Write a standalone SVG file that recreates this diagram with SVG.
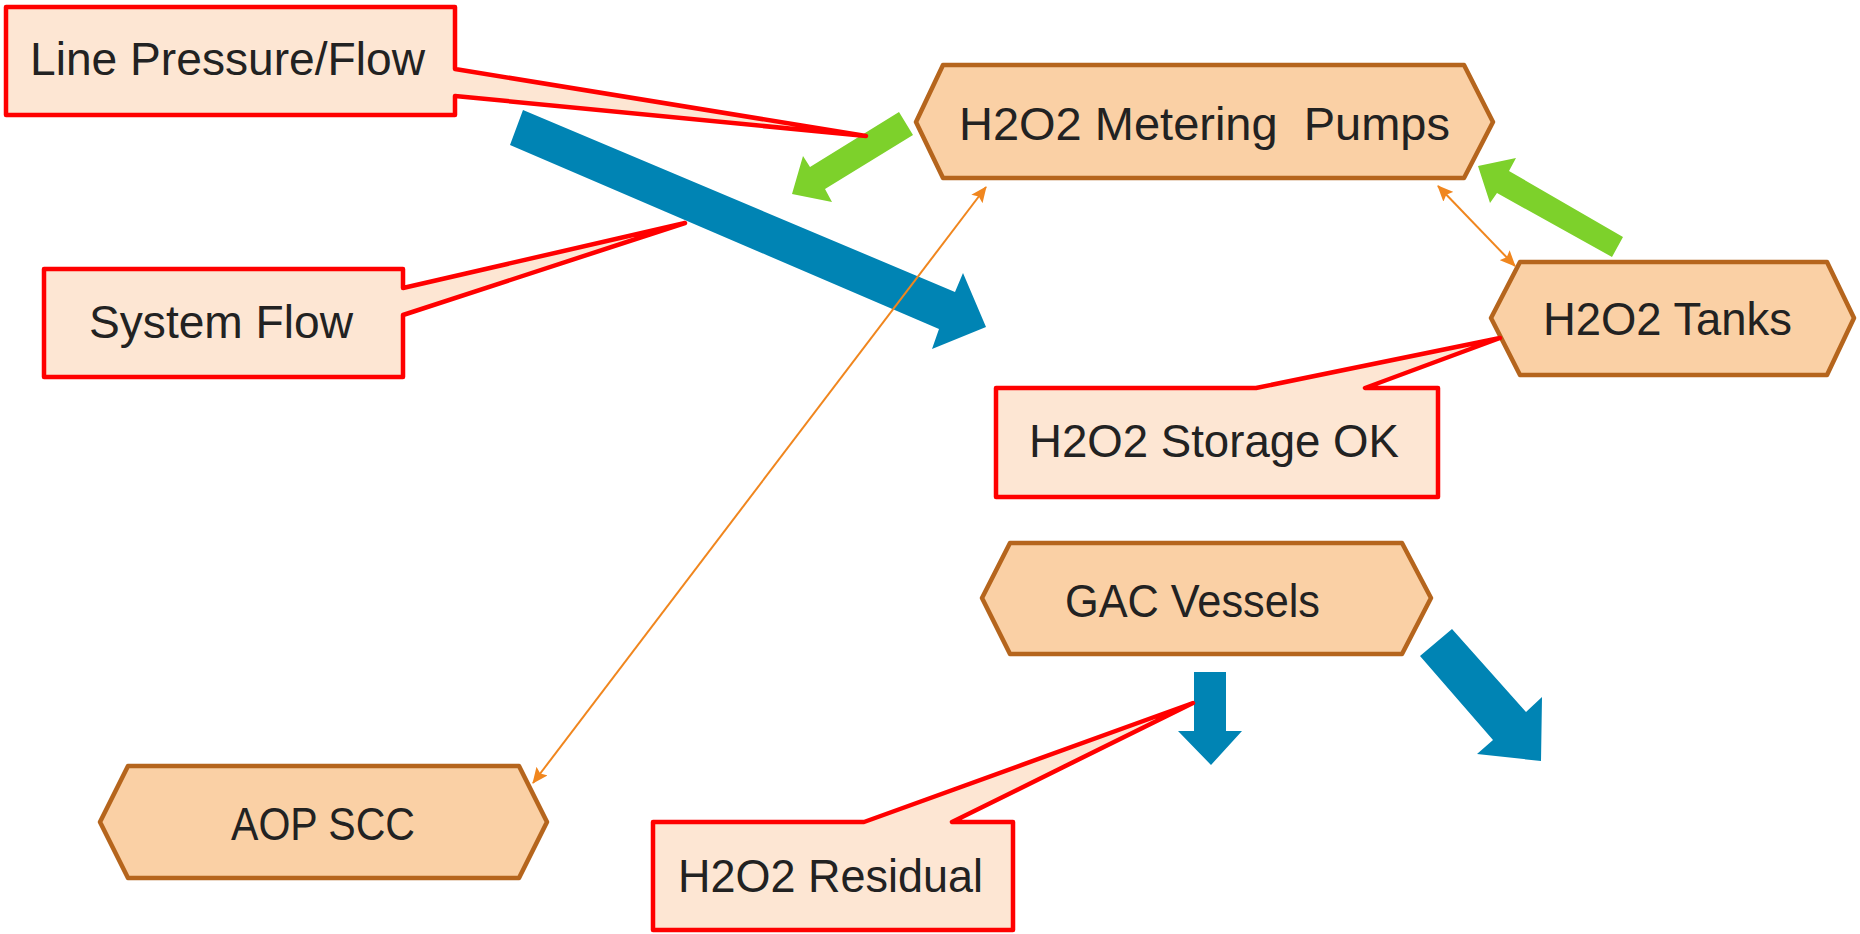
<svg xmlns="http://www.w3.org/2000/svg" width="1860" height="934" viewBox="0 0 1860 934">
  <style>
    .hex { fill: #FAD0A5; stroke: #B5651D; stroke-width: 4.5; stroke-linejoin: round; }
    .callout { fill: #FDE6D3; stroke: #FF0000; stroke-width: 4.5; stroke-linejoin: round; }
    .label { font-family: "Liberation Sans", Arial, sans-serif; font-size: 46px; fill: #222222; }
    .flow { fill: #0084B4; }
    .dose { fill: #7DD12B; }
    .link { stroke: #F0861E; stroke-width: 2; fill: none; marker-start: url(#tip); marker-end: url(#tip); }
  </style>
  <defs>
    <marker id="tip" viewBox="0 0 16 14" refX="15" refY="7" markerWidth="16" markerHeight="14" markerUnits="userSpaceOnUse" orient="auto-start-reverse">
      <path d="M0,0 L16,7 L0,14 L3,7 Z" fill="#F0861E"/>
    </marker>
  </defs>

  <rect width="1860" height="934" fill="#FFFFFF"/>

  <!-- process units -->
  <g id="metering-pumps">
    <polygon class="hex" points="916,122 943,65 1464,65 1493,122 1464,178 943,178"/>
    <text class="label" x="959" y="140" xml:space="preserve" textLength="491" lengthAdjust="spacingAndGlyphs">H2O2 Metering  Pumps</text>
  </g>
  <g id="h2o2-tanks">
    <polygon class="hex" points="1491,318 1520,262 1827,262 1854,318 1827,375 1520,375"/>
    <text class="label" x="1543" y="335" textLength="249" lengthAdjust="spacingAndGlyphs">H2O2 Tanks</text>
  </g>
  <g id="gac-vessels">
    <polygon class="hex" points="982,598 1010,543 1402,543 1431,598 1402,654 1010,654"/>
    <text class="label" x="1065" y="617" textLength="255" lengthAdjust="spacingAndGlyphs">GAC Vessels</text>
  </g>
  <g id="aop-scc">
    <polygon class="hex" points="100,822 128,766 519,766 547,822 519,878 128,878"/>
    <text class="label" x="231" y="840" textLength="184" lengthAdjust="spacingAndGlyphs">AOP SCC</text>
  </g>

  <!-- flows and signal links -->
  <g id="connectors">
    <!-- main system flow -->
    <polygon class="flow" points="523,110 955,292 963,273 986,327 932,349 939,329 510,145"/>
    <!-- GAC outlet sample -->
    <polygon class="flow" points="1194,672 1226,672 1226,731 1242,731 1211,765 1178,731 1194,731"/>
    <!-- GAC discharge -->
    <polygon class="flow" points="1452,629 1526,712 1542,697 1541,761 1477,754 1493,740 1420,656"/>
    <!-- peroxide dosing -->
    <polygon class="dose" points="899,112 913,135 825,189 832,202 792,194 803,156 810,167"/>
    <polygon class="dose" points="1623,237 1509,171 1516,158 1478,166 1490,203 1497,193 1612,257"/>
    <!-- control links -->
    <line class="link" x1="533" y1="783" x2="986" y2="187"/>
    <line class="link" x1="1438" y1="186" x2="1515" y2="266"/>
  </g>

  <!-- measurement callouts -->
  <g id="line-pressure-flow">
    <path class="callout" d="M6,7 H455 V69 L866,136 L455,96 V115 H6 Z"/>
    <text class="label" x="30" y="75" textLength="395" lengthAdjust="spacingAndGlyphs">Line Pressure/Flow</text>
  </g>
  <g id="system-flow">
    <path class="callout" d="M44,269 H403 V288 L685,223 L403,315 V377 H44 Z"/>
    <text class="label" x="89" y="338" textLength="264" lengthAdjust="spacingAndGlyphs">System Flow</text>
  </g>
  <g id="h2o2-storage-ok">
    <path class="callout" d="M996,388 H1256 L1500,338 L1365,388 H1438 V497 H996 Z"/>
    <text class="label" x="1029" y="457" textLength="370" lengthAdjust="spacingAndGlyphs">H2O2 Storage OK</text>
  </g>
  <g id="h2o2-residual">
    <path class="callout" d="M653,822 H864 L1193,703 L952,822 H1013 V930 H653 Z"/>
    <text class="label" x="678" y="892" textLength="305" lengthAdjust="spacingAndGlyphs">H2O2 Residual</text>
  </g>
</svg>
